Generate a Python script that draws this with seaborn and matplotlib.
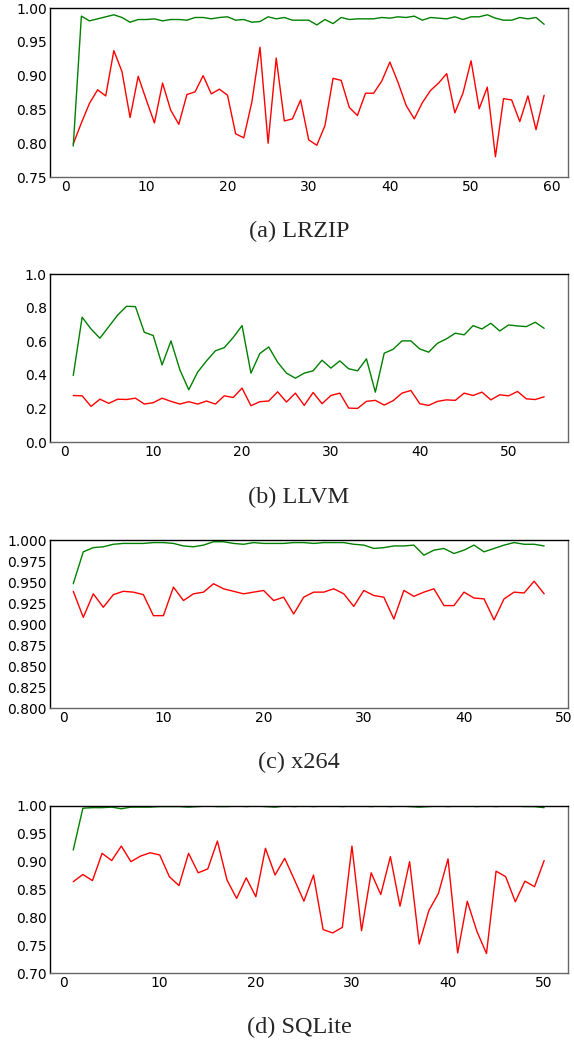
import numpy as np
import matplotlib
matplotlib.use("Agg")
import seaborn as sns
import matplotlib.pyplot as plt
from matplotlib.ticker import FormatStrFormatter

# (a) LRZIP
lrzip_green = [0.796, 0.988, 0.981, 0.984, 0.987, 0.990, 0.986, 0.979, 0.983, 0.983,
               0.984, 0.981, 0.983, 0.983, 0.982, 0.986, 0.986, 0.984, 0.986, 0.987,
               0.982, 0.983, 0.979, 0.980, 0.987, 0.984, 0.986, 0.982, 0.982, 0.982,
               0.975, 0.983, 0.977, 0.986, 0.983, 0.984, 0.984, 0.984, 0.986, 0.985,
               0.987, 0.986, 0.988, 0.982, 0.986, 0.985, 0.984, 0.987, 0.983, 0.987,
               0.987, 0.990, 0.985, 0.982, 0.982, 0.986, 0.984, 0.986, 0.976]
lrzip_red = [0.799, 0.830, 0.859, 0.879, 0.870, 0.937, 0.906, 0.838, 0.899, 0.864,
             0.830, 0.889, 0.849, 0.828, 0.872, 0.876, 0.900, 0.873, 0.880, 0.871,
             0.814, 0.808, 0.861, 0.942, 0.800, 0.926, 0.833, 0.836, 0.864, 0.805,
             0.797, 0.826, 0.896, 0.893, 0.853, 0.841, 0.874, 0.874, 0.892, 0.920,
             0.890, 0.856, 0.836, 0.860, 0.878, 0.889, 0.903, 0.845, 0.874, 0.922,
             0.851, 0.883, 0.780, 0.866, 0.864, 0.832, 0.870, 0.820, 0.871]

# (b) LLVM
llvm_green = [0.396, 0.743, 0.673, 0.618, 0.687, 0.756, 0.808, 0.806, 0.653, 0.634,
              0.459, 0.602, 0.430, 0.311, 0.416, 0.483, 0.543, 0.562, 0.622, 0.693,
              0.410, 0.527, 0.566, 0.475, 0.410, 0.380, 0.410, 0.424, 0.487, 0.440,
              0.483, 0.436, 0.424, 0.495, 0.297, 0.529, 0.552, 0.602, 0.602, 0.554,
              0.535, 0.588, 0.614, 0.648, 0.638, 0.693, 0.673, 0.707, 0.661, 0.697,
              0.691, 0.687, 0.713, 0.677]
llvm_red = [0.277, 0.275, 0.212, 0.255, 0.230, 0.255, 0.253, 0.261, 0.226, 0.234,
            0.261, 0.242, 0.226, 0.240, 0.226, 0.244, 0.226, 0.275, 0.265, 0.321,
            0.216, 0.240, 0.244, 0.299, 0.238, 0.291, 0.218, 0.295, 0.228, 0.277,
            0.291, 0.202, 0.200, 0.242, 0.248, 0.220, 0.246, 0.291, 0.307, 0.228,
            0.218, 0.242, 0.251, 0.248, 0.291, 0.277, 0.297, 0.251, 0.281, 0.275,
            0.301, 0.257, 0.253, 0.269]

# (c) x264
x264_green = [0.948, 0.986, 0.991, 0.992, 0.995, 0.996, 0.996, 0.996, 0.997, 0.997,
              0.996, 0.993, 0.992, 0.994, 0.998, 0.998, 0.996, 0.995, 0.997, 0.996,
              0.996, 0.996, 0.997, 0.997, 0.996, 0.997, 0.997, 0.997, 0.995, 0.994,
              0.990, 0.991, 0.993, 0.993, 0.994, 0.982, 0.988, 0.990, 0.984, 0.988,
              0.994, 0.986, 0.990, 0.994, 0.997, 0.995, 0.995, 0.993]
x264_red = [0.939, 0.908, 0.936, 0.920, 0.935, 0.939, 0.938, 0.935, 0.910, 0.910,
            0.944, 0.928, 0.936, 0.938, 0.948, 0.942, 0.939, 0.936, 0.938, 0.940,
            0.928, 0.932, 0.912, 0.932, 0.938, 0.938, 0.942, 0.936, 0.921, 0.940,
            0.934, 0.932, 0.906, 0.940, 0.933, 0.938, 0.942, 0.922, 0.922, 0.938,
            0.931, 0.930, 0.905, 0.930, 0.938, 0.937, 0.951, 0.936]

# (d) SQLite
sqlite_green = [0.921, 0.996, 0.997, 0.997, 0.998, 0.995, 0.998, 0.998, 0.998, 0.999,
                0.999, 0.999, 0.998, 0.999, 1.000, 0.999, 0.999, 1.000, 0.999, 1.000,
                0.999, 0.998, 1.000, 0.999, 1.000, 0.999, 1.000, 1.000, 0.999, 1.000,
                1.000, 0.999, 1.000, 0.999, 1.000, 0.999, 0.998, 0.999, 1.000, 0.999,
                1.000, 1.000, 0.999, 1.000, 0.999, 1.000, 1.000, 0.999, 0.999, 0.997]
sqlite_red = [0.864, 0.877, 0.866, 0.915, 0.902, 0.928, 0.900, 0.910, 0.916, 0.912,
              0.873, 0.857, 0.915, 0.880, 0.887, 0.937, 0.867, 0.834, 0.871, 0.837,
              0.924, 0.876, 0.906, 0.868, 0.829, 0.876, 0.778, 0.772, 0.782, 0.928,
              0.776, 0.880, 0.841, 0.909, 0.820, 0.900, 0.752, 0.812, 0.843, 0.905,
              0.736, 0.829, 0.775, 0.735, 0.883, 0.873, 0.828, 0.865, 0.855, 0.902]

captions = ["(a) LRZIP", "(b) LLVM", "(c) x264", "(d) SQLite"]
ylims = [(0.75, 1.0), (0.0, 1.0), (0.8, 1.0), (0.7, 1.0)]
ysteps = [0.05, 0.2, 0.025, 0.05]
yfmts = ["%.2f", "%.1f", "%.3f", "%.2f"]
panels = [(lrzip_green, lrzip_red), (llvm_green, llvm_red),
          (x264_green, x264_red), (sqlite_green, sqlite_red)]

# axes boxes in figure fraction (bottom, height) and caption y
boxes = [(0.8301, 0.1622), (0.5758, 0.1612), (0.3205, 0.1612), (0.0662, 0.1603)]
cap_y = [0.7774, 0.5230, 0.2678, 0.0144]

sns.set_style("white")
plt.rcParams['font.family'] = ['DejaVu Sans']

fig = plt.figure(figsize=(5.74, 10.42), dpi=100)

for i, (green, red) in enumerate(panels):
    b, h = boxes[i]
    ax = fig.add_axes([0.0866, b, 0.9024, h])
    xs = np.arange(1, len(green) + 1)
    sns.lineplot(x=xs, y=red, color="red", linewidth=1.0, ax=ax)
    sns.lineplot(x=xs, y=green, color="green", linewidth=1.0, ax=ax)
    lo, hi = ylims[i]
    ax.set_ylim(lo, hi)
    ax.set_yticks(np.arange(lo, hi + ysteps[i] / 2, ysteps[i]))
    ax.yaxis.set_major_formatter(FormatStrFormatter(yfmts[i]))
    ax.margins(x=0.05)
    ax.tick_params(axis="both", length=0, pad=2, labelsize=10, labelcolor="black")
    for side in ["top", "left"]:
        ax.spines[side].set_color("black")
    for side in ["bottom", "right"]:
        ax.spines[side].set_color("#666666")
    for s in ax.spines.values():
        s.set_linewidth(1.0)
        s.set_visible(True)
    fig.text(0.521, cap_y[i], captions[i], ha="center", va="center", fontsize=17.5,
             family=["Liberation Serif", "DejaVu Serif"])

fig.savefig("out.png", dpi=100)
